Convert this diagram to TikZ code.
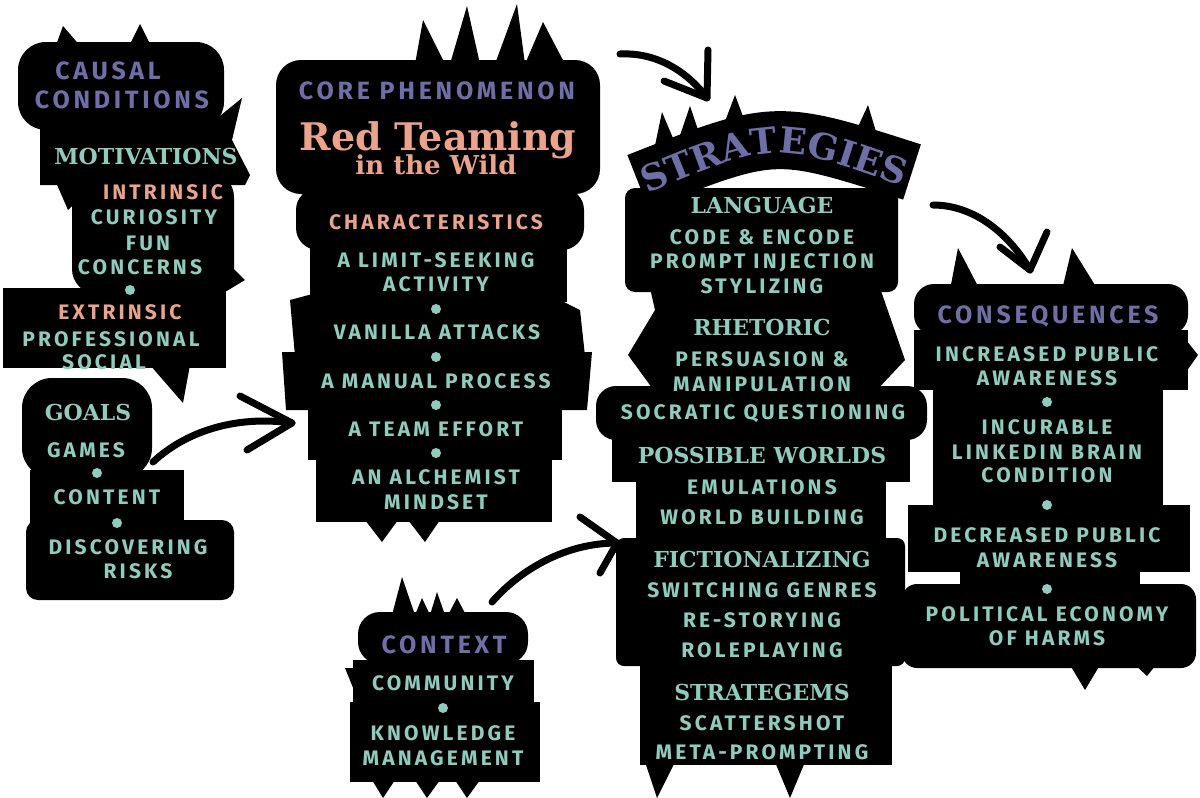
\documentclass[tikz,border=0pt]{standalone}
\usepackage{fontspec}
\usetikzlibrary{decorations.text}
\newfontfamily\dinfont[LetterSpace=15]{Fira Sans}
\newfontfamily\slabfont{DejaVu Serif}
\definecolor{tealc}{HTML}{8FCCBD}
\definecolor{salmonc}{HTML}{EBA38B}
\definecolor{purplec}{HTML}{6F6EA6}
\tikzset{
  blob/.style={fill=black},
  itm/.style={text=tealc, font=\dinfont\bfseries\fontsize{21}{24}\selectfont, inner sep=0pt, text height=14.5pt, text depth=0pt},
  subhd/.style={itm, text=salmonc},
  hdp/.style={text=purplec, font=\dinfont\bfseries\fontsize{25}{28}\selectfont, inner sep=0pt, text height=17pt, text depth=0pt},
  srf/.style={text=tealc, font=\slabfont\bfseries\fontsize{22}{26}\selectfont, inner sep=0pt, text height=16pt, text depth=0pt},
  tdot/.style={circle, fill=tealc, inner sep=0pt, minimum size=10pt},
  arr/.style={line width=7pt, line cap=round, line join=round, draw=black}
}
\newcommand\itm[4]{\node[itm] (#1) at (#2,#3) {#4};}
\newcommand\sbh[4]{\node[subhd] (#1) at (#2,#3) {#4};}
\newcommand\hdp[4]{\node[hdp] (#1) at (#2,#3) {#4};}
\newcommand\srf[4]{\node[srf] (#1) at (#2,#3) {#4};}
\newcommand\tdt[3]{\node[tdot] (#1) at (#2,#3) {};}
\begin{document}
\begin{tikzpicture}[x=1pt,y=-1pt]
\useasboundingbox (0,0) rectangle (1200,798);
% ---------- Blob A (causal conditions)
\fill[blob] (55,48) -- (63,26) -- (82,48) -- cycle;
\fill[blob] (128,48) -- (140,24) -- (152,48) -- cycle;
\fill[blob, rounded corners=28] (18,42) rectangle (224,130);
\fill[blob] (40,120) -- (215,120) -- (242,98) -- (232,140) -- (250,175) -- (245,185) -- (40,185) -- cycle;
\fill[blob] (55,180) -- (68,210) -- (100,180) -- cycle;
\fill[blob, rounded corners=25] (72,172) rectangle (234,294);
\fill[blob] (220,255) -- (245,280) -- (225,292) -- cycle;
\fill[blob] (3,288) rectangle (226,368);
\fill[blob] (150,365) -- (183,403) -- (190,365) -- cycle;
\fill[blob, rounded corners=30] (22,378) rectangle (152,478);
\fill[blob] (30,470) rectangle (184,525);
\fill[blob, rounded corners=12] (26,520) rectangle (234,600);
% ---------- Blob B (core)
\fill[blob] (415,64) -- (423,20) -- (445,64) -- cycle;
\fill[blob] (450,64) -- (467,6) -- (480,64) -- cycle;
\fill[blob] (495,64) -- (517,4) -- (525,64) -- cycle;
\fill[blob] (525,64) -- (543,22) -- (565,64) -- cycle;
\fill[blob, rounded corners=25] (276,60) rectangle (600,194);
\fill[blob, rounded corners=22] (296,188) rectangle (584,250);
\fill[blob] (310,245) rectangle (567,302);
\fill[blob] (290,300) -- (320,292) -- (560,300) -- (580,310) -- (585,356) -- (295,356) -- cycle;
\fill[blob] (282,352) -- (592,352) -- (587,410) -- (286,410) -- cycle;
\fill[blob] (308,405) rectangle (562,460);
\fill[blob] (316,455) rectangle (552,522);
\fill[blob] (365,520) -- (382,542) -- (398,520) -- cycle;
\fill[blob] (408,520) -- (425,542) -- (440,520) -- cycle;
% ---------- Blob C (strategies)
\draw[line width=58pt, draw=black] (638,182) .. controls (775,128) .. (912,172);
\fill[blob] (652,160) -- (662,112) -- (678,150) -- cycle;
\fill[blob] (675,150) -- (690,106) -- (702,142) -- cycle;
\fill[blob] (718,140) -- (735,95) -- (750,135) -- cycle;
\fill[blob] (852,140) -- (868,105) -- (880,145) -- cycle;
\fill[blob, rounded corners=10] (625,188) rectangle (898,292);
\fill[blob] (650,288) -- (880,288) -- (905,360) -- (875,392) -- (655,392) -- (628,355) -- (655,310) -- cycle;
\fill[blob, rounded corners=20] (596,386) rectangle (927,440);
\fill[blob] (612,432) rectangle (910,482);
\fill[blob] (636,478) rectangle (886,542);
\fill[blob, rounded corners=8] (616,538) rectangle (905,666);
\fill[blob] (640,662) rectangle (892,765);
\fill[blob] (645,762) -- (657,798) -- (675,762) -- cycle;
\fill[blob] (775,762) -- (790,798) -- (805,762) -- cycle;
% ---------- Blob D (consequences)
\fill[blob] (950,290) -- (958,248) -- (980,290) -- cycle;
\fill[blob] (1062,290) -- (1072,248) -- (1098,290) -- cycle;
\fill[blob, rounded corners=20] (914,284) rectangle (1188,335);
\fill[blob] (914,330) rectangle (1188,390);
\fill[blob] (1186,340) -- (1198,355) -- (1186,372) -- cycle;
\fill[blob] (933,386) rectangle (1163,512);
\fill[blob] (908,505) rectangle (1190,572);
\fill[blob] (960,565) rectangle (1140,590);
\fill[blob, rounded corners=15] (902,584) rectangle (1196,668);
\fill[blob] (1070,665) -- (1085,690) -- (1100,665) -- cycle;
\fill[blob] (1130,660) -- (1147,676) -- (1160,660) -- cycle;
% ---------- Blob E (context)
\fill[blob] (392,615) -- (402,577) -- (415,615) -- cycle;
\fill[blob] (415,615) -- (422,598) -- (430,615) -- cycle;
\fill[blob] (430,615) -- (437,592) -- (445,615) -- cycle;
\fill[blob] (448,615) -- (457,598) -- (466,615) -- cycle;
\fill[blob, rounded corners=22] (358,612) rectangle (528,664);
\fill[blob] (353,660) rectangle (534,706);
\fill[blob] (345,668) -- (358,700) -- (358,668) -- cycle;
\fill[blob] (350,702) rectangle (540,782);
\fill[blob] (372,780) -- (383,798) -- (395,780) -- cycle;
\fill[blob] (415,780) -- (427,798) -- (440,780) -- cycle;
\fill[blob] (455,780) -- (467,798) -- (480,780) -- cycle;

% ---------- Texts: causal conditions
\hdp{cc1}{108}{71}{CAUSAL}
\hdp{cc2}{122}{100}{CONDITIONS}
\srf{mot}{146}{156}{MOTIVATIONS}
\sbh{intr}{163}{192}{INTRINSIC}
\itm{cur}{154}{217}{CURIOSITY}
\itm{fun}{148}{243}{FUN}
\itm{conc}{140}{267}{CONCERNS}
\tdt{da1}{130}{290}
\sbh{extr}{120}{312}{EXTRINSIC}
\itm{prof}{111}{339}{PROFESSIONAL}
\itm{soc}{104}{362}{SOCIAL}
\srf{goals}{88}{412}{GOALS}
\itm{games}{86}{450}{GAMES}
\tdt{da2}{97}{473}
\itm{cont}{107}{497}{CONTENT}
\tdt{da3}{117}{523}
\itm{disc}{128}{547}{DISCOVERING}
\itm{risk}{138}{571}{RISKS}
% ---------- core
\hdp{core}{437}{91}{CORE PHENOMENON}
\node[text=salmonc, font=\slabfont\bfseries\fontsize{38}{40}\selectfont, inner sep=0pt, anchor=base] (rt) at (438,150) {Red Teaming};
\node[text=salmonc, font=\slabfont\bfseries\fontsize{26}{28}\selectfont, inner sep=0pt, anchor=base] (itw) at (436,174) {in the Wild};
\sbh{char}{436}{222}{CHARACTERISTICS}
\itm{c1}{436}{260}{A LIMIT-SEEKING}
\itm{c1b}{436}{284}{ACTIVITY}
\tdt{db1}{436}{309}
\itm{c2}{437}{332}{VANILLA ATTACKS}
\tdt{db2}{436}{357}
\itm{c3}{436}{381}{A MANUAL PROCESS}
\tdt{db3}{436}{405}
\itm{c4}{436}{429}{A TEAM EFFORT}
\tdt{db4}{436}{453}
\itm{c5}{436}{477}{AN ALCHEMIST}
\itm{c5b}{436}{502}{MINDSET}
% ---------- strategies
\path[decorate, decoration={text along path, text={|\slabfont\bfseries\fontsize{36}{40}\selectfont|STRATEGIES}, text align=center, text color=purplec}] (640,197) .. controls (775,140) .. (910,189);
\srf{lang}{762}{205}{LANGUAGE}
\itm{s1}{762}{237}{CODE \& ENCODE}
\itm{s2}{762}{261}{PROMPT INJECTION}
\itm{s3}{762}{286}{STYLIZING}
\srf{rhet}{762}{327}{RHETORIC}
\itm{s4}{762}{359}{PERSUASION \&}
\itm{s5}{762}{384}{MANIPULATION}
\itm{s6}{763}{412}{SOCRATIC QUESTIONING}
\srf{poss}{762}{455}{POSSIBLE WORLDS}
\itm{s7}{762}{487}{EMULATIONS}
\itm{s8}{762}{517}{WORLD BUILDING}
\srf{fict}{762}{559}{FICTIONALIZING}
\itm{s9}{762}{590}{SWITCHING GENRES}
\itm{s10}{762}{620}{RE-STORYING}
\itm{s11}{762}{650}{ROLEPLAYING}
\srf{strg}{762}{692}{STRATEGEMS}
\itm{s12}{762}{723}{SCATTERSHOT}
\itm{s13}{762}{752}{META-PROMPTING}
% ---------- consequences
\hdp{cons}{1048}{315}{CONSEQUENCES}
\itm{q1}{1047}{354}{INCREASED PUBLIC}
\itm{q1b}{1047}{378}{AWARENESS}
\tdt{dd1}{1047}{402}
\itm{q2}{1047}{427}{INCURABLE}
\itm{q2b}{1047}{452}{LINKEDIN BRAIN}
\itm{q2c}{1047}{475}{CONDITION}
\tdt{dd2}{1047}{505}
\itm{q3}{1047}{535}{DECREASED PUBLIC}
\itm{q3b}{1047}{560}{AWARENESS}
\tdt{dd3}{1047}{589}
\itm{q4}{1047}{614}{POLITICAL ECONOMY}
\itm{q4b}{1047}{638}{OF HARMS}
% ---------- context
\hdp{ctx}{444}{645}{CONTEXT}
\itm{x1}{443}{683}{COMMUNITY}
\tdt{de1}{443}{708}
\itm{x2}{443}{733}{KNOWLEDGE}
\itm{x2b}{443}{758}{MANAGEMENT}
% ---------- arrows
\coordinate (a1s) at (153,462); \coordinate (a1t) at (292,423);
\coordinate (a1l) at (240,396); \coordinate (a1r) at (247,450);
\draw[arr] (a1s) .. controls (185,432) and (235,415) .. (a1t);
\draw[arr] (a1l) -- (a1t) -- (a1r);
\coordinate (a2s) at (620,54); \coordinate (a2t) at (707,98);
\coordinate (a2l) at (708,50); \coordinate (a2r) at (664,81);
\draw[arr] (a2s) .. controls (660,52) and (690,75) .. (a2t);
\draw[arr] (a2l) -- (a2t) -- (a2r);
\coordinate (a3s) at (933,205); \coordinate (a3t) at (1030,270);
\coordinate (a3l) at (1047,232); \coordinate (a3r) at (1000,247);
\draw[arr] (a3s) .. controls (975,205) and (1010,235) .. (a3t);
\draw[arr] (a3l) -- (a3t) -- (a3r);
\coordinate (a4s) at (492,602); \coordinate (a4t) at (617,543);
\coordinate (a4l) at (580,517); \coordinate (a4r) at (600,573);
\draw[arr] (a4s) .. controls (520,570) and (565,543) .. (a4t);
\draw[arr] (a4l) -- (a4t) -- (a4r);
\end{tikzpicture}
\end{document}
